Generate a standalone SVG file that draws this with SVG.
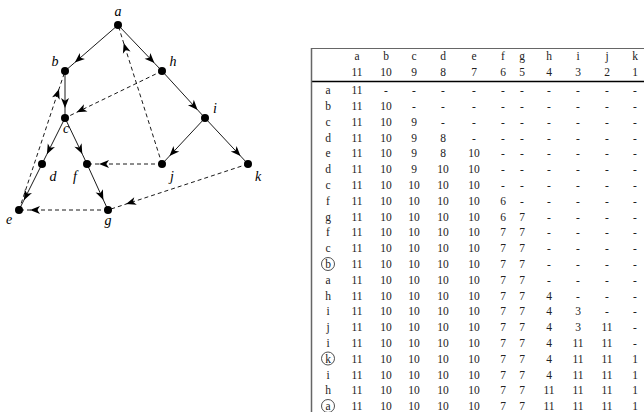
<svg xmlns="http://www.w3.org/2000/svg" width="644" height="412" viewBox="0 0 644 412">
<style>
.lbl{font-family:"Liberation Serif","DejaVu Serif",serif;font-style:italic;font-size:14px;fill:#000;text-anchor:middle}
.e{fill:none;stroke:#000;stroke-width:0.9;marker-mid:url(#ah)}
.d{stroke-dasharray:4,3}
.n{fill:#000}
.t{font-family:"Liberation Serif","DejaVu Serif",serif;font-size:11.5px;fill:#222;text-anchor:middle}
.circ{fill:none;stroke:#222;stroke-width:0.8}
</style>
<defs>
<marker id="ah" markerUnits="userSpaceOnUse" markerWidth="12" markerHeight="12" refX="0" refY="0" viewBox="-8 -4 9 8" orient="auto" overflow="visible">
<path d="M0,0 L-7.5,-3 L-5.5,0 L-7.5,3 Z" fill="#000"/>
</marker>
</defs>
<g id="edges">
<path class="e" d="M118,25 L74.8,62.5 L65,71"/>
<path class="e" d="M118,25 L154.4,63.1 L162,71"/>
<path class="e" d="M65,71 L65,108 L65,118"/>
<path class="e" d="M65,118 L46.9,154.2 L42,164"/>
<path class="e" d="M65,118 L82.3,154.1 L87,164"/>
<path class="e" d="M42,164 L23.9,200.2 L19,210"/>
<path class="e" d="M87,164 L103.4,200 L108,210"/>
<path class="e" d="M162,71 L197.6,109.9 L205,118"/>
<path class="e" d="M205,118 L169.5,156 L162,164"/>
<path class="e" d="M205,118 L240.5,156 L248,164"/>
<path class="e d" d="M19,210 L59,89 L65,71"/>
<path class="e d" d="M162,71 L76.7,112.3 L65,118"/>
<path class="e d" d="M162,164 L123.7,43.1 L118,25"/>
<path class="e d" d="M162,164 L99,164 L87,164"/>
<path class="e d" d="M248,164 L126,204.1 L108,210"/>
<path class="e d" d="M108,210 L30,210 L19,210"/>
</g>
<g id="node-a"><circle class="n" cx="118" cy="25" r="4"/><text class="lbl" x="118" y="16">a</text></g>
<g id="node-b"><circle class="n" cx="65" cy="71" r="4"/><text class="lbl" x="55" y="66">b</text></g>
<g id="node-h"><circle class="n" cx="162" cy="71" r="4"/><text class="lbl" x="173" y="66">h</text></g>
<g id="node-c"><circle class="n" cx="65" cy="118" r="4"/><text class="lbl" x="66" y="133">c</text></g>
<g id="node-i"><circle class="n" cx="205" cy="118" r="4"/><text class="lbl" x="215" y="113">i</text></g>
<g id="node-d"><circle class="n" cx="42" cy="164" r="4"/><text class="lbl" x="53" y="181">d</text></g>
<g id="node-f"><circle class="n" cx="87" cy="164" r="4"/><text class="lbl" x="75" y="181">f</text></g>
<g id="node-j"><circle class="n" cx="162" cy="164" r="4"/><text class="lbl" x="172" y="181">j</text></g>
<g id="node-k"><circle class="n" cx="248" cy="164" r="4"/><text class="lbl" x="258" y="181">k</text></g>
<g id="node-e"><circle class="n" cx="19" cy="210" r="4"/><text class="lbl" x="9" y="224">e</text></g>
<g id="node-g"><circle class="n" cx="108" cy="210" r="4"/><text class="lbl" x="108" y="225">g</text></g>
<g id="table">
<line x1="311" y1="48.5" x2="644" y2="48.5" stroke="#666" stroke-width="1"/>
<line x1="311" y1="81.5" x2="644" y2="81.5" stroke="#000" stroke-width="1.3"/>
<line x1="311.5" y1="48" x2="311.5" y2="412" stroke="#666" stroke-width="1.5"/>
<text class="t" y="60"><tspan x="357">a</tspan><tspan x="386">b</tspan><tspan x="414">c</tspan><tspan x="443">d</tspan><tspan x="474">e</tspan><tspan x="503">f</tspan><tspan x="522">g</tspan><tspan x="549">h</tspan><tspan x="578">i</tspan><tspan x="607">j</tspan><tspan x="635">k</tspan></text>
<text class="t" y="75.5"><tspan x="357">11</tspan><tspan x="386">10</tspan><tspan x="414">9</tspan><tspan x="443">8</tspan><tspan x="474">7</tspan><tspan x="503">6</tspan><tspan x="522">5</tspan><tspan x="549">4</tspan><tspan x="578">3</tspan><tspan x="607">2</tspan><tspan x="635">1</tspan></text>
<text class="t" y="94"><tspan x="328">a</tspan><tspan x="357">11</tspan><tspan x="386">-</tspan><tspan x="414">-</tspan><tspan x="443">-</tspan><tspan x="474">-</tspan><tspan x="503">-</tspan><tspan x="522">-</tspan><tspan x="549">-</tspan><tspan x="578">-</tspan><tspan x="607">-</tspan><tspan x="635">-</tspan></text>
<text class="t" y="110"><tspan x="328">b</tspan><tspan x="357">11</tspan><tspan x="386">10</tspan><tspan x="414">-</tspan><tspan x="443">-</tspan><tspan x="474">-</tspan><tspan x="503">-</tspan><tspan x="522">-</tspan><tspan x="549">-</tspan><tspan x="578">-</tspan><tspan x="607">-</tspan><tspan x="635">-</tspan></text>
<text class="t" y="125.5"><tspan x="328">c</tspan><tspan x="357">11</tspan><tspan x="386">10</tspan><tspan x="414">9</tspan><tspan x="443">-</tspan><tspan x="474">-</tspan><tspan x="503">-</tspan><tspan x="522">-</tspan><tspan x="549">-</tspan><tspan x="578">-</tspan><tspan x="607">-</tspan><tspan x="635">-</tspan></text>
<text class="t" y="141.5"><tspan x="328">d</tspan><tspan x="357">11</tspan><tspan x="386">10</tspan><tspan x="414">9</tspan><tspan x="443">8</tspan><tspan x="474">-</tspan><tspan x="503">-</tspan><tspan x="522">-</tspan><tspan x="549">-</tspan><tspan x="578">-</tspan><tspan x="607">-</tspan><tspan x="635">-</tspan></text>
<text class="t" y="157"><tspan x="328">e</tspan><tspan x="357">11</tspan><tspan x="386">10</tspan><tspan x="414">9</tspan><tspan x="443">8</tspan><tspan x="474">10</tspan><tspan x="503">-</tspan><tspan x="522">-</tspan><tspan x="549">-</tspan><tspan x="578">-</tspan><tspan x="607">-</tspan><tspan x="635">-</tspan></text>
<text class="t" y="173"><tspan x="328">d</tspan><tspan x="357">11</tspan><tspan x="386">10</tspan><tspan x="414">9</tspan><tspan x="443">10</tspan><tspan x="474">10</tspan><tspan x="503">-</tspan><tspan x="522">-</tspan><tspan x="549">-</tspan><tspan x="578">-</tspan><tspan x="607">-</tspan><tspan x="635">-</tspan></text>
<text class="t" y="189"><tspan x="328">c</tspan><tspan x="357">11</tspan><tspan x="386">10</tspan><tspan x="414">10</tspan><tspan x="443">10</tspan><tspan x="474">10</tspan><tspan x="503">-</tspan><tspan x="522">-</tspan><tspan x="549">-</tspan><tspan x="578">-</tspan><tspan x="607">-</tspan><tspan x="635">-</tspan></text>
<text class="t" y="204.5"><tspan x="328">f</tspan><tspan x="357">11</tspan><tspan x="386">10</tspan><tspan x="414">10</tspan><tspan x="443">10</tspan><tspan x="474">10</tspan><tspan x="503">6</tspan><tspan x="522">-</tspan><tspan x="549">-</tspan><tspan x="578">-</tspan><tspan x="607">-</tspan><tspan x="635">-</tspan></text>
<text class="t" y="220.5"><tspan x="328">g</tspan><tspan x="357">11</tspan><tspan x="386">10</tspan><tspan x="414">10</tspan><tspan x="443">10</tspan><tspan x="474">10</tspan><tspan x="503">6</tspan><tspan x="522">7</tspan><tspan x="549">-</tspan><tspan x="578">-</tspan><tspan x="607">-</tspan><tspan x="635">-</tspan></text>
<text class="t" y="236"><tspan x="328">f</tspan><tspan x="357">11</tspan><tspan x="386">10</tspan><tspan x="414">10</tspan><tspan x="443">10</tspan><tspan x="474">10</tspan><tspan x="503">7</tspan><tspan x="522">7</tspan><tspan x="549">-</tspan><tspan x="578">-</tspan><tspan x="607">-</tspan><tspan x="635">-</tspan></text>
<text class="t" y="252"><tspan x="328">c</tspan><tspan x="357">11</tspan><tspan x="386">10</tspan><tspan x="414">10</tspan><tspan x="443">10</tspan><tspan x="474">10</tspan><tspan x="503">7</tspan><tspan x="522">7</tspan><tspan x="549">-</tspan><tspan x="578">-</tspan><tspan x="607">-</tspan><tspan x="635">-</tspan></text>
<circle class="circ" cx="328" cy="264" r="6.5"/>
<text class="t" y="268"><tspan x="328">b</tspan><tspan x="357">11</tspan><tspan x="386">10</tspan><tspan x="414">10</tspan><tspan x="443">10</tspan><tspan x="474">10</tspan><tspan x="503">7</tspan><tspan x="522">7</tspan><tspan x="549">-</tspan><tspan x="578">-</tspan><tspan x="607">-</tspan><tspan x="635">-</tspan></text>
<text class="t" y="283.5"><tspan x="328">a</tspan><tspan x="357">11</tspan><tspan x="386">10</tspan><tspan x="414">10</tspan><tspan x="443">10</tspan><tspan x="474">10</tspan><tspan x="503">7</tspan><tspan x="522">7</tspan><tspan x="549">-</tspan><tspan x="578">-</tspan><tspan x="607">-</tspan><tspan x="635">-</tspan></text>
<text class="t" y="299.5"><tspan x="328">h</tspan><tspan x="357">11</tspan><tspan x="386">10</tspan><tspan x="414">10</tspan><tspan x="443">10</tspan><tspan x="474">10</tspan><tspan x="503">7</tspan><tspan x="522">7</tspan><tspan x="549">4</tspan><tspan x="578">-</tspan><tspan x="607">-</tspan><tspan x="635">-</tspan></text>
<text class="t" y="315"><tspan x="328">i</tspan><tspan x="357">11</tspan><tspan x="386">10</tspan><tspan x="414">10</tspan><tspan x="443">10</tspan><tspan x="474">10</tspan><tspan x="503">7</tspan><tspan x="522">7</tspan><tspan x="549">4</tspan><tspan x="578">3</tspan><tspan x="607">-</tspan><tspan x="635">-</tspan></text>
<text class="t" y="331"><tspan x="328">j</tspan><tspan x="357">11</tspan><tspan x="386">10</tspan><tspan x="414">10</tspan><tspan x="443">10</tspan><tspan x="474">10</tspan><tspan x="503">7</tspan><tspan x="522">7</tspan><tspan x="549">4</tspan><tspan x="578">3</tspan><tspan x="607">11</tspan><tspan x="635">-</tspan></text>
<text class="t" y="347"><tspan x="328">i</tspan><tspan x="357">11</tspan><tspan x="386">10</tspan><tspan x="414">10</tspan><tspan x="443">10</tspan><tspan x="474">10</tspan><tspan x="503">7</tspan><tspan x="522">7</tspan><tspan x="549">4</tspan><tspan x="578">11</tspan><tspan x="607">11</tspan><tspan x="635">-</tspan></text>
<circle class="circ" cx="328" cy="358.5" r="6.5"/>
<text class="t" y="362.5"><tspan x="328">k</tspan><tspan x="357">11</tspan><tspan x="386">10</tspan><tspan x="414">10</tspan><tspan x="443">10</tspan><tspan x="474">10</tspan><tspan x="503">7</tspan><tspan x="522">7</tspan><tspan x="549">4</tspan><tspan x="578">11</tspan><tspan x="607">11</tspan><tspan x="635">1</tspan></text>
<text class="t" y="378.5"><tspan x="328">i</tspan><tspan x="357">11</tspan><tspan x="386">10</tspan><tspan x="414">10</tspan><tspan x="443">10</tspan><tspan x="474">10</tspan><tspan x="503">7</tspan><tspan x="522">7</tspan><tspan x="549">4</tspan><tspan x="578">11</tspan><tspan x="607">11</tspan><tspan x="635">1</tspan></text>
<text class="t" y="394"><tspan x="328">h</tspan><tspan x="357">11</tspan><tspan x="386">10</tspan><tspan x="414">10</tspan><tspan x="443">10</tspan><tspan x="474">10</tspan><tspan x="503">7</tspan><tspan x="522">7</tspan><tspan x="549">11</tspan><tspan x="578">11</tspan><tspan x="607">11</tspan><tspan x="635">1</tspan></text>
<circle class="circ" cx="328" cy="406" r="6.5"/>
<text class="t" y="410"><tspan x="328">a</tspan><tspan x="357">11</tspan><tspan x="386">10</tspan><tspan x="414">10</tspan><tspan x="443">10</tspan><tspan x="474">10</tspan><tspan x="503">7</tspan><tspan x="522">7</tspan><tspan x="549">11</tspan><tspan x="578">11</tspan><tspan x="607">11</tspan><tspan x="635">1</tspan></text>
</g>
</svg>
